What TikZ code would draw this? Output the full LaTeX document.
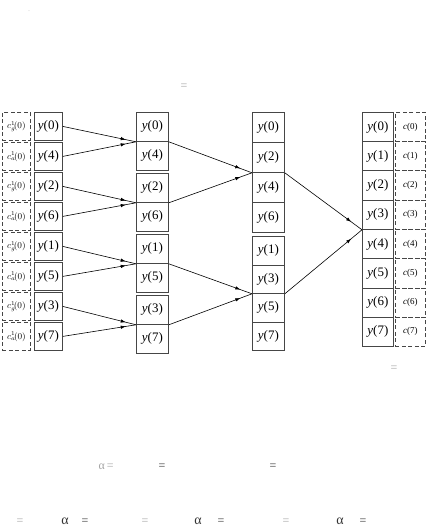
\documentclass[tikz,border=0pt]{standalone}
\usepackage{fontspec}
\setmainfont{Liberation Serif}
\usetikzlibrary{arrows.meta, decorations.markings}
\definecolor{boxGray}{RGB}{70,70,70}
\definecolor{ghostGray}{RGB}{165,165,165}

\begin{document}
\begin{tikzpicture}[x=1bp, y=-1bp,
  cell/.style={rectangle, draw=boxGray, line width=0.8bp, inner sep=0pt,
               anchor=north west, font=\fontsize{13}{15}\selectfont},
  coef/.style={cell, dash pattern=on 4bp off 2.5bp, font=\fontsize{9}{11}\selectfont},
  flow/.style={line width=0.6bp, postaction={decorate},
               decoration={markings, mark=at position 0.86 with
                 {\arrow{Latex[length=5bp, width=3.5bp]}}}},
  ghost/.style={text=ghostGray, inner sep=0pt, font=\fontsize{12}{14}\selectfont},
  ghostdark/.style={ghost, text=black!80},
]
  \useasboundingbox (0,0) rectangle (441,527);

  % input column with coefficients
  \foreach \v [count=\i from 0] in {0,4,2,6,1,5,3,7} {
    \pgfmathsetmacro\rowy{112+30*\i}
    \node[coef, minimum width=28bp, minimum height=28bp] (s0c\i) at (2,\rowy)
      {$c^{1}_{\ifodd\i\relax a\else g\fi}\!(0)$};
    \node[cell, minimum width=28bp, minimum height=28bp] (s0r\i) at (34,\rowy)
      {\textit{y}(\v)};
  }

  % first stage, pairs
  \foreach \v [count=\i from 0] in {0,4,2,6,1,5,3,7} {
    \pgfmathsetmacro\rowy{112+61*floor(\i/2)+29*mod(\i,2)}
    \node[cell, minimum width=32bp, minimum height=29bp] (s1r\i) at (136,\rowy)
      {\textit{y}(\v)};
  }

  % second stage, quads
  \foreach \v [count=\i from 0] in {0,2,4,6} {
    \pgfmathsetmacro\rowy{112+30*\i}
    \node[cell, minimum width=32bp, minimum height=30bp] (s2r\i) at (252,\rowy)
      {\textit{y}(\v)};
  }
  \foreach \v [count=\i from 4] in {1,3,5,7} {
    \pgfmathsetmacro\rowy{236+28.5*(\i-4)}
    \node[cell, minimum width=32bp, minimum height=28.5bp] (s2r\i) at (252,\rowy)
      {\textit{y}(\v)};
  }

  % output column
  \foreach \i in {0,...,7} {
    \pgfmathsetmacro\rowy{112+29.25*\i}
    \node[cell, minimum width=31bp, minimum height=29.25bp] (s3r\i) at (362,\rowy)
      {\textit{y}(\i)};
    \node[coef, minimum width=30bp, minimum height=29.25bp] (s3c\i) at (395,\rowy)
      {\textit{c}(\i)};
  }

  % connectors
  \foreach \i in {0,2,4,6} {
    \pgfmathtruncatemacro\j{\i+1}
    \draw[flow] (s0r\i.east) -- (s1r\i.south west);
    \draw[flow] (s0r\j.east) -- (s1r\i.south west);
  }
  \draw[flow] (s1r0.south east) -- (s2r1.south west);
  \draw[flow] (s1r2.south east) -- (s2r1.south west);
  \draw[flow] (s1r4.south east) -- (s2r5.south west);
  \draw[flow] (s1r6.south east) -- (s2r5.south west);
  \draw[flow] (s2r1.south east) -- (s3r3.south west);
  \draw[flow] (s2r5.south east) -- (s3r3.south west);

  % leftover symbols
  \node[ghost, font=\fontsize{6}{7}\selectfont] (dot) at (29,11) {.};
  \node[ghost] (eqA) at (184,87) {=};
  \node[ghost] (eqB) at (394,369) {=};
  \node[ghost] (eqC) at (106,467) {α\,=};
  \node[ghostdark] (eqD) at (162,467) {=};
  \node[ghostdark] (eqE) at (273,467) {=};
  \node[ghost] (eqF) at (20,522) {=};
  \node[ghostdark, font=\fontsize{14}{16}\selectfont] (alA) at (65,521) {α};
  \node[ghostdark] (eqG) at (85,522) {=};
  \node[ghost] (eqH) at (145,522) {=};
  \node[ghostdark, font=\fontsize{14}{16}\selectfont] (alB) at (198,521) {α};
  \node[ghostdark] (eqI) at (221,522) {=};
  \node[ghost] (eqJ) at (286,522) {=};
  \node[ghostdark, font=\fontsize{14}{16}\selectfont] (alC) at (340,521) {α};
  \node[ghostdark] (eqK) at (363,522) {=};
\end{tikzpicture}
\end{document}
